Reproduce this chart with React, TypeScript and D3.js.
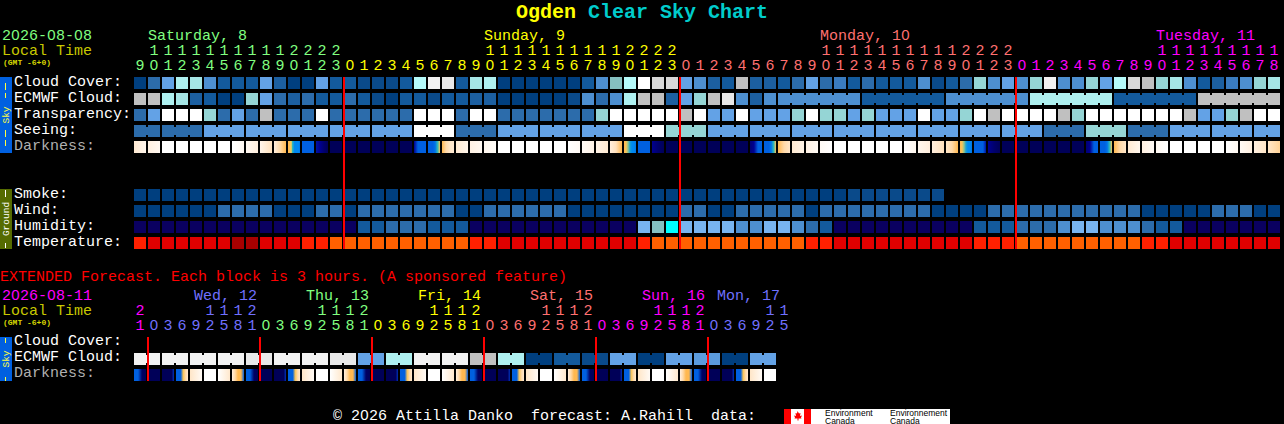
import React from "react";
import * as d3 from "d3";

// hourly forecast, one value per block
const hours = [9, 10, 11, 12, 13, 14, 15, 16, 17, 18, 19, 20, 21, 22, 23,
    0, 1, 2, 3, 4, 5, 6, 7, 8, 9, 10, 11, 12, 13, 14, 15, 16, 17, 18, 19, 20, 21, 22, 23,
    0, 1, 2, 3, 4, 5, 6, 7, 8, 9, 10, 11, 12, 13, 14, 15, 16, 17, 18, 19, 20, 21, 22, 23,
    0, 1, 2, 3, 4, 5, 6, 7, 8, 9, 10, 11, 12, 13, 14, 15, 16, 17, 18];
const hourDays = [0, 15, 39, 63]; // first block of each day
const dayNames = ["Saturday, 8", "Sunday, 9", "Monday, 10", "Tuesday, 11"];
const dayNameCols = [1, 25, 49, 73];
const dayColors = ["#80ff80", "#ffff00", "#ff7070", "#ff00ff"];

const cloudCover = [0, 20, 40, 65, 60, 30, 10, 10, 10, 40, 15, 0, 0, 40, 10, 10, 5, 5, 5, 10, 70,
    80, 85, 10, 60, 65, 0, 0, 0, 0, 0, 0, 10, 30, 50, 70, 100, 90, 90, 40, 30, 15, 10, 95, 15, 15, 10, 20, 40, 20, 25, 10,
    20, 10, 10, 10, 30, 5, 10, 20, 55, 30, 40, 30, 55, 80, 30, 30, 55, 40, 70, 90, 95, 55, 60, 30, 10, 15, 25, 30, 55, 60];
const ecmwfCloud = [95, 95, 65, 60, 15, 10, 0, 0, 55, 40, 20, 15, 20, 10, 10, 20, 10, 5, 0, 10, 10, 5,
    10, 10, 15, 15, 0, 0, 0, 0, 0, 5, 30, 20, 30, 65, 95, 95, 15, 40, 55, 95, 85, 30, 15, 30];
const ecmwfBlocks = [30, 10, 30, 65, 10, 95]; // six-hourly after the hourly part
const transparency = [20, 40, 100, 100, 100, 55, 20, 40, 20, 95, 20, 20, 20, 100, 20, 20, 20, 20, 20, 20, 100, 100,
    100, 20, 100, 100, 20, 20, 20, 20, 20, 20, 20, 55, 100, 100, 100, 100, 100, 95, 100, 40, 40, 100, 40, 40, 40, 55, 100, 55, 55, 40,
    55, 40, 40, 40, 100, 40, 40, 55, 100, 95, 100, 100, 100, 100, 95, 55, 100, 100, 100, 100, 100, 100, 100, 95, 40, 40, 55, 95, 100, 100];
const seeingBlocks = [20, 20, 40, 40, 40, 40, 40, 100, 20, 40, 40, 40, 100, 55, 40, 40, 40, 40, 40, 40, 40, 40, 20, 55, 20, 40, 40, 40];
const seeingSizes = [2, 3, 3, 3, 3, 3, 3, 3, 3, 3, 3, 3, 3, 3, 3, 3, 3, 3, 3, 3, 3, 3, 3, 3, 3, 3, 3, 2];

const darkness: number[][] = [[1.2, 0.6], [0.9, 0.4], [0], [0], [0], [0], [0], [0, 0.4], [0.4, 1], [0.6, 1.6], [1, 2, 3],
    [3, 3, 3.5, 4, 5, 5.5, 6, 6, 6, 6, 6, 6.5], [7], [7.8, 8, 8.6, 9], [9], [9], [9], [9], [9], [9], [8, 7, 7, 7], [7, 7, 7, 6.5, 5, 3.5],
    [3, 2, 1.4, 1.2], [1.2, 0.6], [0.8, 0.4], [0.5, 0.2], [0], [0], [0], [0], [0], [0, 0.3], [0.3, 0.7], [0.7, 1.2], [1, 1.6, 3],
    [3, 3.5, 4.5, 5.5, 6, 6, 6.5], [7], [8, 8.6, 9], [9], [9], [9], [9], [9], [9], [8.5, 8, 7, 7], [7, 7, 7, 6.5, 5, 3.5],
    [3, 2, 1.4], [1.2, 0.7], [0.8, 0.3], [0.3, 0], [0], [0], [0], [0], [0], [0, 0.5], [0.5, 1], [1, 1.6], [1.4, 2, 3],
    [3, 3.5, 4.5, 5.5, 6, 6, 6.5], [7, 7, 7, 7, 7.8], [8, 8.6, 9], [9], [9], [9], [9], [9], [9], [8.5, 8, 7, 7], [7, 7, 7, 6.5, 5, 3.5],
    [3, 2, 1.4], [1.2, 0.5], [0.9, 0.3], [0.4, 0], [0], [0], [0], [0], [0, 0.4], [0.3, 0.9], [0.9, 1.4], [1.4, 2.2]];

const smoke = [0, 0, 0, 0, 0, 0, 0, 0, 0, 0, 0, 0, 0, 0, 0, 0, 0, 0, 0, 0, 0, 0, 0, 0, 0, 0, 0, 0, 0,
    0, 0, 0, 0, 0, 0, 0, 0, 0, 0, 0, 0, 0, 0, 0, 0, 0, 0, 0, 0, 0, 0, 5, 5, 5, 5, 5, 5, 5];
const wind = [0, 0, 0, 0, 0, 0, 20, 20, 20, 20, 0, 0, 0, 20, 20, 0, 20, 20, 20, 20, 20, 20, 20, 0, 0,
    20, 20, 20, 20, 20, 20, 0, 0, 0, 0, 0, 0, 0, 0, 20, 20, 0, 0, 20, 20, 20, 20, 20, 0, 20, 20, 20,
    20, 20, 20, 20, 20, 0, 0, 0, 0, 20, 20, 20, 20, 20, 20, 20, 20, 20, 20, 20, 0, 0, 0, 0, 0, 20, 20, 20, 0, 0];
const humidity = [-1, -1, -1, -1, -1, -1, -1, -1, -1, -1, -1, -1, -1, -1, -1, -1, 10, 10, 20, 20, 20,
    10, 10, 10, -1, -1, -1, -1, -1, -1, -1, -1, -1, -1, -1, -1, 45, 50, -2, 45, 45, 45, 45, 30, 30, 45, 45, 30, 20, 10, -1, -1,
    -1, -1, -1, -1, -1, -1, -1, -1, 10, 10, 10, 20, 20, 20, 30, 45, 45, 30, 30, 30, 20, 10, 10, -1, -1, -1, -1, -1, -1, -1];
const temperature = [1, 0, 0, 0, 0, 0, 0, -1, -1, 0, 0, 0, 1, 1, 2, 2, 2, 2, 2, 2, 2, 2, 2, 2, 1, 1,
    0, 0, 0, 0, 0, 0, 0, 0, 0, 0, 1, 2, 2, 2, 2, 2, 2, 2, 2, 2, 2, 2, 1, 1, 0, 0,
    0, 0, 0, 0, 0, 0, 0, 0, 1, 1, 1, 2, 2, 2, 2, 2, 2, 2, 2, 2, 1, 1, 0, 0, 0, 0, 0, 0, 0, 0];

// extended forecast, one block is three hours
const extHours = [21, 0, 3, 6, 9, 12, 15, 18, 21, 0, 3, 6, 9, 12, 15, 18, 21, 0, 3, 6, 9, 12, 15, 18, 21,
    0, 3, 6, 9, 12, 15, 18, 21, 0, 3, 6, 9, 12, 15, 18, 21, 0, 3, 6, 9, 12, 15];
const extDayStarts = [0, 1, 9, 17, 25, 33, 41];
const extDayColors = ["#ff00ff", "#7070ff", "#80ff80", "#ffff00", "#ff7070", "#ff00ff", "#7070ff"];
const extDayNames = ["Wed, 12", "Thu, 13", "Fri, 14", "Sat, 15", "Sun, 16", "Mon, 17"];
const extDayCols = [4, 12, 20, 28, 36, 41];
const extEcmwf = [80, 80, 80, 80, 85, 80, 80, 85, 40, 65, 80, 80, 95, 65, 0, 10, 5, 40, 0, 40, 35, 0, 40];
const extDarkness: number[][] = [[7, 7, 8.8, 9], [9], [9, 9, 9, 9, 9, 7.5], [7, 7, 7, 3.5, 2, 1.2], [1.4, 0.3], [0], [0, 1.3], [1, 2, 3, 3, 7],
    [7, 7, 8.8, 9], [9], [9, 9, 9, 9, 9, 7.5], [7, 7, 7, 3.5, 2, 1.2], [1.4, 0.3], [0], [0, 1.3], [1, 2, 3, 3, 7],
    [7, 7, 8.8, 9], [9], [9, 9, 9, 9, 9, 7.5], [7, 7, 7, 3.5, 2, 1.2], [1.4, 0.3], [0], [0, 1.3], [1, 2, 3, 3, 7],
    [7, 7, 8.8, 9], [9], [9, 9, 9, 9, 9, 7.5], [7, 7, 7, 3.5, 2, 1.2], [1.4, 0.3], [0], [0, 1.3], [1, 2, 3, 3, 7],
    [7, 7, 8.8, 9], [9], [9, 9, 9, 9, 9, 7.5], [7, 7, 7, 3.5, 2, 1.2], [1.4, 0.3], [0], [0, 1.3], [1, 2, 3, 3, 7],
    [7, 7, 8.8, 9], [9], [9, 9, 9, 9, 9, 7.5], [7, 7, 7, 3.5, 2, 1.2], [1.4, 0.3], [0]];

const width = 1284;
const height = 424;
const mono = "'Liberation Mono', monospace";
const sans = "'Liberation Sans', sans-serif";
const charW = 9;

// same colour ladder for all the sky rows
const skyColor = d3.scaleOrdinal<number, string>()
    .domain([-2, -1, 0, 5, 10, 15, 20, 25, 30, 35, 40, 45, 50, 55, 60, 65, 70, 80, 85, 90, 95, 100])
    .range(["#00ffff", "#0a0060", "#003f7f", "#0a4a8a", "#135a9c", "#1c5fa0", "#2c6cab", "#3a7bbf", "#4d8fd0", "#5b9bdd", "#63a2e6",
        "#78b4f0", "#85c0c0", "#95d5d5", "#a5e5e5", "#aef0f0", "#b5fafa", "#f2f2f2", "#e8e8e8", "#d8d8d8", "#c0c0c0", "#ffffff"]);
const tempColor = d3.scaleOrdinal<number, string>()
    .domain([-1, 0, 1, 2])
    .range(["#a80000", "#e00000", "#ff2000", "#ff6000"]);
const darkColor = d3.scaleLinear<string>()
    .domain([0, 1, 2, 3, 4, 5, 6, 7, 8, 9])
    .range(["#ffffff", "#ffeedd", "#ffd9a8", "#ffb850", "#f0d060", "#30b8b8", "#0088f0", "#0060e0", "#000090", "#000058"])
    .interpolate(d3.interpolateRgb);

const x = d3.scaleBand<number>().domain(d3.range(82)).range([134, 1280]).paddingInner(2 / 14);
const extX = d3.scaleBand<number>().domain(d3.range(47)).range([134, 790]).paddingInner(2 / 14);
const cell = x.bandwidth();

const dayOf = (starts: number[], col: number) => d3.bisectRight(starts, col) - 1;

// the mono font dots its zero, the chart's bitmap font does not
const Glyphs = ({ text, left }: { text: string; left: number }) => (
    <>
        {text.split("").map((c, i) => (
            <tspan key={i} x={left + i * charW + (c === "0" ? 0.3 : 0)} fontFamily={c === "0" ? sans : mono}>{c}</tspan>
        ))}
    </>
);

const Label = ({ y, fill = "#fff", children, left = 14 }: any) => (
    <text y={y} fill={fill} fontSize={15} fontFamily={mono} xmlSpace="preserve">
        <Glyphs text={children} left={left} />
    </text>
);

const HourDigit = ({ digit, cx, y }: any) => (
    <text x={cx} y={y} fontFamily={digit === 0 ? sans : mono}>{digit}</text>
);

// one row of separate blocks
const Row = ({ values, y, color = skyColor }: any) => (
    <g>
        {values.map((v: number, i: number) => (
            <rect key={i} x={x(i)} y={y} width={cell} height={cell} fill={color(v)} />
        ))}
    </g>
);

// blocks that belong to one forecast step are joined with a small bridge
const JoinedRow = ({ values, sizes, start, y, scale }: any) => {
    let col = start;
    return (
        <g>
            {values.map((v: number, b: number) => {
                const size = sizes[b];
                const cols = d3.range(col, col + size);
                col += size;
                return cols.map((c: number, k: number) => (
                    <g key={c}>
                        <rect x={scale(c)} y={y} width={cell} height={cell} fill={skyColor(v)} />
                        {k < size - 1 && <rect x={scale(c) + cell} y={y + 2} width={2} height={cell - 4} fill={skyColor(v)} />}
                    </g>
                ));
            })}
        </g>
    );
};

const DarkRow = ({ values, y, scale, prefix }: any) => (
    <g>
        <defs>
            {values.map((stops: number[], i: number) => stops.length > 1 && (
                <linearGradient key={i} id={`${prefix}${i}`}>
                    {stops.map((s, k) => (
                        <stop key={k} offset={k / (stops.length - 1)} stopColor={darkColor(s)} />
                    ))}
                </linearGradient>
            ))}
        </defs>
        {values.map((stops: number[], i: number) => (
            <rect key={i} x={scale(i)} y={y} width={cell} height={cell}
                fill={stops.length > 1 ? `url(#${prefix}${i})` : darkColor(stops[0])} />
        ))}
    </g>
);

const SideBar = ({ y0, y1, fill, color, label, dashes }: any) => (
    <g>
        <rect x={0} y={y0} width={12} height={y1 - y0} fill={fill} />
        {dashes.map((d: number[]) => (
            <rect key={d[0]} x={5} y={d[0]} width={1} height={d[1] - d[0]} fill={color} />
        ))}
        <text transform={`translate(8.5,${(y0 + y1) / 2}) rotate(-90)`} textAnchor="middle" fill={color}
            fontSize={9.5} fontFamily={mono}>{label}</text>
    </g>
);

const App = () => {
    const midnights = hourDays.slice(1);
    const extMidnights = extDayStarts.slice(1);
    return (
        <svg width={width} height={height} style={{ position: "absolute", left: 0, top: 0, display: "block" }}>
            <rect width={width} height={height} fill="#000" />

            <text x={516} y={18} fontSize={20} fontWeight="bold" fontFamily={mono} xmlSpace="preserve">
                <tspan fill="#ffff00">Ogden</tspan><tspan fill="#00cccc"> Clear Sky Chart</tspan>
            </text>

            <Label left={2} y={40} fill={dayColors[0]}>2026-08-08</Label>
            <Label left={2} y={55} fill="#c8c800">Local Time</Label>
            <text x={3} y={65} fill="#d8d800" fontSize={8} fontWeight="bold" fontFamily={mono}>(GMT -6+0)</text>

            {dayNames.map((d, i) => (
                <Label key={d} left={x(dayNameCols[i])} y={40} fill={dayColors[i]}>{d}</Label>
            ))}
            {hours.map((h, i) => {
                const fill = dayColors[dayOf(hourDays, i)];
                const cx = x(i)! + cell / 2;
                return (
                    <g key={i} fontSize={15} textAnchor="middle" fill={fill}>
                        {h >= 10 && <HourDigit digit={Math.floor(h / 10)} cx={cx} y={55} />}
                        <HourDigit digit={h % 10} cx={cx} y={70} />
                    </g>
                );
            })}

            <SideBar y0={77} y1={153} fill="#0060e0" color="#ffff40" label="Sky"
                dashes={[[83, 90], [93, 98], [130, 137], [140, 146]]} />
            <Label y={86}>Cloud Cover:</Label>
            <Label y={102}>ECMWF Cloud:</Label>
            <Label y={118}>Transparency:</Label>
            <Label y={134}>Seeing:</Label>
            <Label y={150} fill="#b0b0b0">Darkness:</Label>

            <Row values={cloudCover} y={77} />
            <Row values={ecmwfCloud} y={93} />
            <JoinedRow values={ecmwfBlocks} sizes={[6, 6, 6, 6, 6, 6]} start={ecmwfCloud.length} y={93} scale={x} />
            <Row values={transparency} y={109} />
            <JoinedRow values={seeingBlocks} sizes={seeingSizes} start={0} y={125} scale={x} />
            <DarkRow values={darkness} y={141} scale={x} prefix="dark" />

            <SideBar y0={189} y1={249} fill="#556b00" color="#fff" label="Ground"
                dashes={[[190, 197], [243, 248]]} />
            <Label y={198}>Smoke:</Label>
            <Label y={214}>Wind:</Label>
            <Label y={230}>Humidity:</Label>
            <Label y={246}>Temperature:</Label>

            <Row values={smoke} y={189} />
            <Row values={wind} y={205} />
            <Row values={humidity} y={221} />
            <Row values={temperature} y={237} color={tempColor} />

            {midnights.map(c => (
                <rect key={c} x={Math.round(x(c)!) - 1} y={77} width={2} height={172} fill="#ff0000" />
            ))}

            <Label left={0} y={281} fill="#ff0000">EXTENDED Forecast. Each block is 3 hours. (A sponsored feature)</Label>
            <Label left={2} y={300} fill="#ff00ff">2026-08-11</Label>
            <Label left={2} y={315} fill="#c8c800">Local Time</Label>
            <text x={3} y={325} fill="#d8d800" fontSize={8} fontWeight="bold" fontFamily={mono}>(GMT -6+0)</text>

            {extDayNames.map((d, i) => (
                <Label key={d} left={extX(extDayCols[i])! + (i === 5 ? 9 : 4)} y={300} fill={extDayColors[i + 1]}>{d}</Label>
            ))}
            {extHours.map((h, i) => {
                const fill = extDayColors[dayOf(extDayStarts, i)];
                const cx = extX(i)! + cell / 2;
                return (
                    <g key={i} fontSize={15} textAnchor="middle" fill={fill}>
                        {h >= 10 && <HourDigit digit={Math.floor(h / 10)} cx={cx} y={315} />}
                        <HourDigit digit={h % 10} cx={cx} y={330} />
                    </g>
                );
            })}

            <SideBar y0={337} y1={381} fill="#0060e0" color="#ffff40" label="Sky"
                dashes={[[338, 343], [377, 381]]} />
            <Label y={345}>Cloud Cover:</Label>
            <Label y={361}>ECMWF Cloud:</Label>
            <Label y={377} fill="#b0b0b0">Darkness:</Label>

            <JoinedRow values={extEcmwf} sizes={extEcmwf.map(() => 2)} start={0} y={353} scale={extX} />
            <DarkRow values={extDarkness} y={369} scale={extX} prefix="ext" />

            {extMidnights.map(c => (
                <rect key={c} x={Math.round(extX(c)!) - 1} y={337} width={2} height={44} fill="#ff0000" />
            ))}

            <Label left={333} y={420}>© 2026 Attilla Danko  forecast: A.Rahill  data:</Label>

            {/* Environment Canada logo */}
            <rect x={784} y={409} width={166} height={15} fill="#fff" />
            <rect x={784} y={409} width={7} height={15} fill="#ff0000" />
            <rect x={804} y={409} width={7} height={15} fill="#ff0000" />
            <path d="M797.5 411 l1.5 2.5 1.5 -0.5 -0.5 3 2 -0.5 -1 2 0.5 1 -3 0 0 2 -1 0 0 -2 -3 0 0.5 -1 -1 -2 2 0.5 -0.5 -3 1.5 0.5 z" fill="#ff0000" />
            <g fontSize={8.5} fontFamily={sans} fill="#000">
                <text x={825} y={416}>Environment</text>
                <text x={825} y={423.5}>Canada</text>
                <text x={890} y={416}>Environnement</text>
                <text x={890} y={423.5}>Canada</text>
            </g>
        </svg>
    );
};

export default App;
